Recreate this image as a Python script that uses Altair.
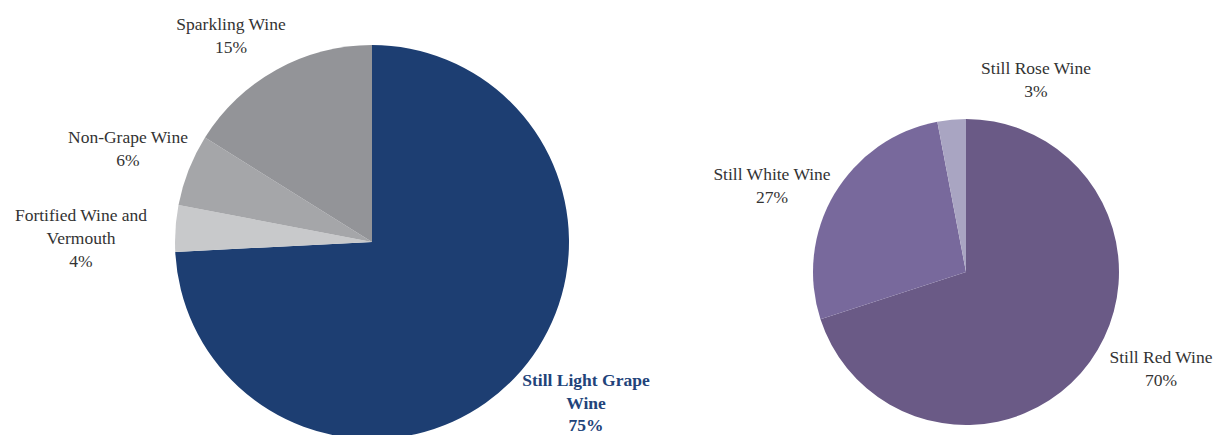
import altair as alt
import pandas as pd

# ---- data ----
left_categories = ["Still Light Grape Wine", "Fortified Wine and Vermouth", "Non-Grape Wine", "Sparkling Wine"]
left_shares = [74.2, 3.8, 5.9, 16.1]          # slice sizes
left_labels = ["75%", "4%", "6%", "15%"]
left_colors = ["#1D3E72", "#C8C9CB", "#A5A6A9", "#939498"]

right_categories = ["Still Red Wine", "Still White Wine", "Still Rose Wine"]
right_shares = [70, 27, 3]
right_labels = ["70%", "27%", "3%"]
right_colors = ["#6A5A86", "#78699C", "#A9A5C2"]

# label text lines (name lines, then the percentage)
left_name_lines = [["Still Light Grape", "Wine"],
                   ["Fortified Wine and", "Vermouth"],
                   ["Non-Grape Wine"],
                   ["Sparkling Wine"]]
right_name_lines = [["Still Red Wine"],
                    ["Still White Wine"],
                    ["Still Rose Wine"]]

# layout (pixels) – style/position only (first-line centre of each label)
W, H = 1215, 435
LEFT_CENTER = (372, 242)
LEFT_R = 197
RIGHT_CENTER = (966, 272)
RIGHT_R = 153
left_label_pos = [(586, 381), (81, 216), (128, 138), (231, 25)]
right_label_pos = [(1161, 358), (772, 175), (1036, 69)]

FONT = "Liberation Serif"
FS = 17.5
TEXT_COLOR = "#333333"
BLUE_TEXT = "#22437A"

left_df = pd.DataFrame({"cat": left_categories, "share": left_shares,
                        "order": list(range(len(left_categories)))})
right_df = pd.DataFrame({"cat": right_categories, "share": right_shares,
                         "order": list(range(len(right_categories)))})


def pie(df, colors, center, r):
    return alt.Chart(df).mark_arc(outerRadius=r, stroke=None).encode(
        theta=alt.Theta("share:Q", stack=True),
        order=alt.Order("order:Q"),
        color=alt.Color("cat:N", scale=alt.Scale(domain=list(df["cat"]), range=colors), legend=None),
        x=alt.value(center[0]),
        y=alt.value(center[1]),
    )


def label(lines, pos, bold=False, color=TEXT_COLOR, lh=23):
    out = []
    for i, line in enumerate(lines):
        kw = dict(font=FONT, fontSize=FS, color=color, align="center", baseline="middle")
        if bold:
            kw["fontWeight"] = "bold"
        out.append(alt.Chart(pd.DataFrame({"t": [line]})).mark_text(**kw).encode(
            text="t:N", x=alt.value(pos[0]), y=alt.value(pos[1] + i * lh)))
    return out


layers = [pie(left_df, left_colors, LEFT_CENTER, LEFT_R),
          pie(right_df, right_colors, RIGHT_CENTER, RIGHT_R)]
for i, (names, pct, pos) in enumerate(zip(left_name_lines, left_labels, left_label_pos)):
    if i == 0:
        layers += label(names + [pct], pos, bold=True, color=BLUE_TEXT, lh=22.5)
    else:
        layers += label(names + [pct], pos)
for names, pct, pos in zip(right_name_lines, right_labels, right_label_pos):
    layers += label(names + [pct], pos)

chart = alt.layer(*layers).resolve_scale(theta="independent", color="independent").properties(
    width=W, height=H, padding=0, autosize=alt.AutoSizeParams(type="none"),
).configure_view(stroke=None)

chart.save("out.html", embed_options={"renderer": "svg", "actions": False})
